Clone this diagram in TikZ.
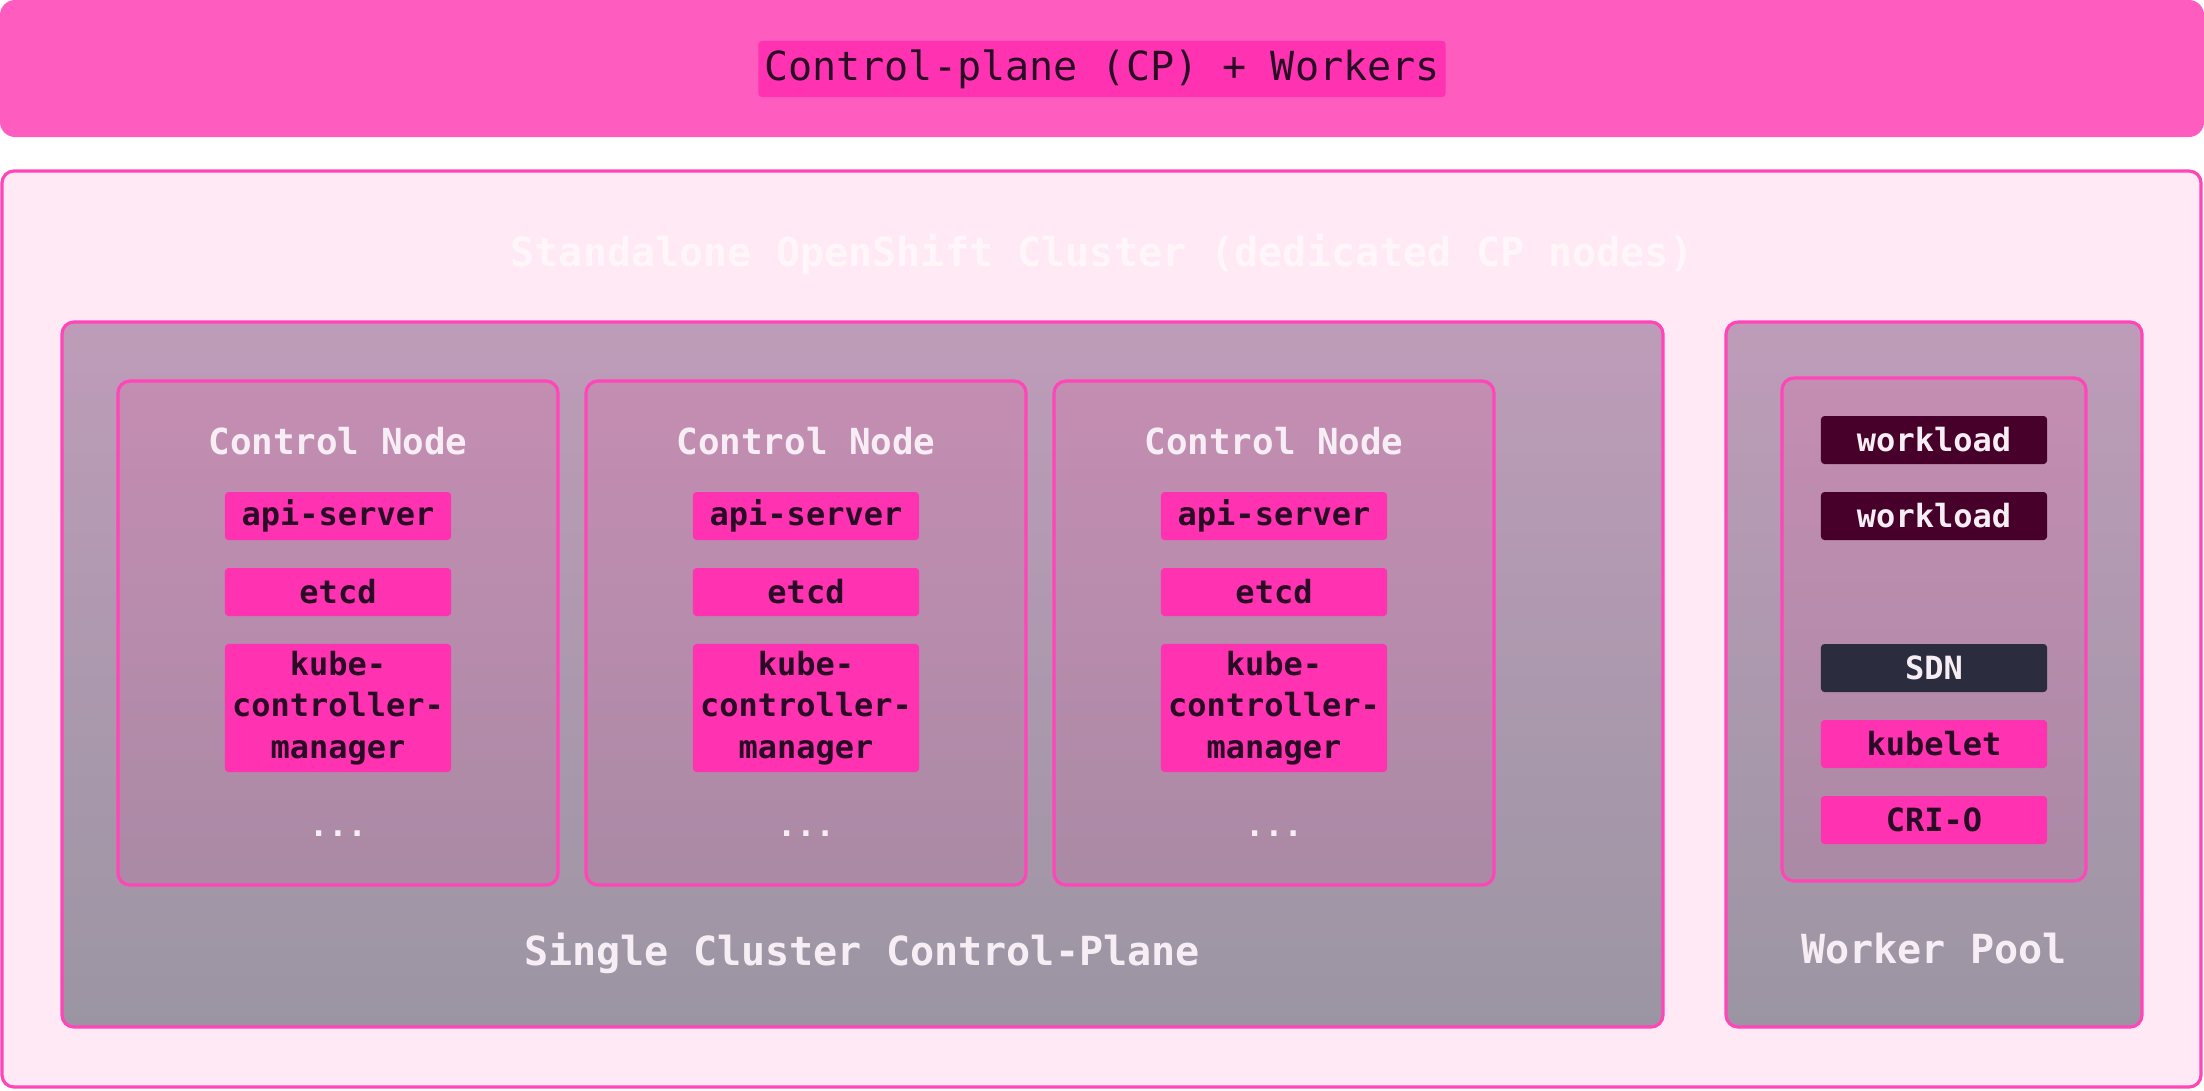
\documentclass[tikz,border=0pt]{standalone}
\usepackage{fontspec}
\setmonofont{DejaVu Sans Mono}
\usepackage{tikz}
\usetikzlibrary{positioning}

\definecolor{banner}{HTML}{FF5CBF}
\definecolor{hotpink}{HTML}{FF33B1}
\definecolor{edge}{HTML}{FF45B8}
\definecolor{clusterbg}{HTML}{FFE9F4}
\definecolor{faint}{HTML}{FFF6FA}
\definecolor{cptop}{HTML}{BE9CB9}
\definecolor{cpbottom}{HTML}{9B95A3}
\definecolor{cntop}{HTML}{C48DB2}
\definecolor{cnbottom}{HTML}{AA8AA5}
\definecolor{ink}{HTML}{2A0B26}
\definecolor{workload}{HTML}{47002A}
\definecolor{sdnbg}{HTML}{2B2C3E}
\definecolor{paletext}{HTML}{F7EEF5}

\begin{document}
\begin{tikzpicture}[x=0.01cm, y=-0.01cm,
  box/.style={draw=edge, line width=0.9pt, rounded corners=3.4pt},
  nodebox/.style={box, top color=cntop, bottom color=cnbottom},
  chip/.style={fill=hotpink, rounded corners=1pt, minimum width=2.26cm,
    minimum height=0.48cm, inner sep=0pt, text=ink, align=center,
    font=\fontsize{9.1}{11.7}\selectfont\ttfamily\bfseries},
  darkchip/.style={chip, fill=workload, text=paletext},
  label/.style={text=paletext, font=\fontsize{11.4}{13}\selectfont\ttfamily\bfseries},
  nodetitle/.style={text=paletext, font=\fontsize{10.2}{12}\selectfont\ttfamily\bfseries},
  dots/.style={text=paletext, font=\fontsize{9.1}{11}\selectfont\ttfamily\bfseries}]
\useasboundingbox (0,0) rectangle (2204,1090);

% Banner
\fill[banner, rounded corners=4.3pt] (0,0) rectangle (2204,137);
\node[fill=hotpink, rounded corners=1pt, minimum width=6.87cm, minimum height=0.56cm,
  inner sep=0pt, text=ink, font=\fontsize{11.4}{13}\selectfont\ttfamily]
  (header) at (1102,69) {Control-plane (CP) + Workers};

% Cluster
\draw[edge, fill=clusterbg, line width=0.9pt, rounded corners=3.4pt] (2,171) rectangle (2201,1087);
\node[text=faint, font=\fontsize{11.4}{13}\selectfont\ttfamily\bfseries]
  (clustertitle) at (1102,254) {Standalone OpenShift Cluster (dedicated CP nodes)};

% Single cluster control-plane
\draw[box, top color=cptop, bottom color=cpbottom] (62,322) rectangle (1663,1027);
\node[label] (cplabel) at (862,953) {Single Cluster Control-Plane};

% Control node 1
\draw[nodebox] (118,381) rectangle (558,885);
\node[nodetitle] (cn1) at (338,441) {Control Node};
\node[chip] (cn1api) at (338,516) {api-server};
\node[chip] (cn1etcd) at (338,592) {etcd};
\node[chip, minimum height=1.28cm] (cn1kcm) at (338,708) {kube-\\controller-\\manager};
\node[dots] (cn1dots) at (338,834) {...};

% Control node 2
\begin{scope}[shift={(468,0)}]
\draw[nodebox] (118,381) rectangle (558,885);
\node[nodetitle] (cn2) at (338,441) {Control Node};
\node[chip] (cn2api) at (338,516) {api-server};
\node[chip] (cn2etcd) at (338,592) {etcd};
\node[chip, minimum height=1.28cm] (cn2kcm) at (338,708) {kube-\\controller-\\manager};
\node[dots] (cn2dots) at (338,834) {...};
\end{scope}

% Control node 3
\begin{scope}[shift={(936,0)}]
\draw[nodebox] (118,381) rectangle (558,885);
\node[nodetitle] (cn3) at (338,441) {Control Node};
\node[chip] (cn3api) at (338,516) {api-server};
\node[chip] (cn3etcd) at (338,592) {etcd};
\node[chip, minimum height=1.28cm] (cn3kcm) at (338,708) {kube-\\controller-\\manager};
\node[dots] (cn3dots) at (338,834) {...};
\end{scope}

% Worker pool
\draw[box, top color=cptop, bottom color=cpbottom] (1726,322) rectangle (2142,1027);
\draw[nodebox] (1782,378) rectangle (2086,881);
\node[darkchip] (wl1) at (1934,440) {workload};
\node[darkchip] (wl2) at (1934,516) {workload};
\node[chip, fill=sdnbg, text=paletext] (sdn) at (1934,668) {SDN};
\node[chip] (kubelet) at (1934,744) {kubelet};
\node[chip] (crio) at (1934,820) {CRI-O};
\node[label] (poollabel) at (1934,949) {Worker Pool};

\end{tikzpicture}
\end{document}
